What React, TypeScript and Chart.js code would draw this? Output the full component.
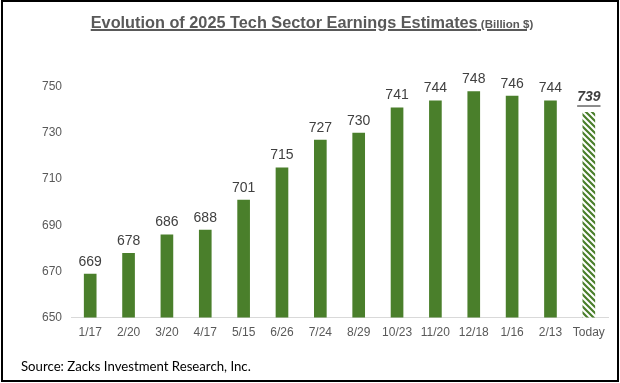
import React, { useEffect, useRef } from "react";
import { Chart, registerables } from "chart.js";

Chart.register(...registerables);

const categories = ["1/17", "2/20", "3/20", "4/17", "5/15", "6/26", "7/24", "8/29", "10/23", "11/20", "12/18", "1/16", "2/13", "Today"];
const estimates = [669, 678, 686, 688, 701, 715, 727, 730, 741, 744, 748, 746, 744, 739];
const yTicks = [650, 670, 690, 710, 730, 750];

const GREEN = "#4a7f2b";

function makeHatch(): CanvasPattern | string {
  const c = document.createElement("canvas");
  const s = 6;
  c.width = s;
  c.height = s;
  const ctx = c.getContext("2d");
  if (!ctx) return GREEN;
  ctx.fillStyle = "#ffffff";
  ctx.fillRect(0, 0, s, s);
  ctx.strokeStyle = GREEN;
  ctx.lineWidth = 2.2;
  ctx.beginPath();
  for (let k = -1; k <= 1; k++) {
    ctx.moveTo(k * s - 1, -1);
    ctx.lineTo(k * s + s + 1, s + 1);
  }
  ctx.stroke();
  return ctx.createPattern(c, "repeat") || GREEN;
}

const labelPlugin = {
  id: "valueLabels",
  afterDatasetsDraw(chart: any) {
    const ctx = chart.ctx;
    const meta = chart.getDatasetMeta(0);
    const data = chart.data.datasets[0].data as number[];
    ctx.save();
    ctx.textAlign = "center";
    ctx.textBaseline = "bottom";
    meta.data.forEach((bar: any, i: number) => {
      const last = i === data.length - 1;
      const txt = String(data[i]);
      ctx.fillStyle = "#404040";
      ctx.font = last ? "italic bold 14px Arial, 'Liberation Sans'" : "14px Arial, 'Liberation Sans'";
      const y = bar.y - (last ? 8 : 5);
      ctx.fillText(txt, bar.x, y);
      if (last) {
        const w = ctx.measureText(txt).width;
        ctx.strokeStyle = "#404040";
        ctx.lineWidth = 1.2;
        ctx.beginPath();
        ctx.moveTo(bar.x - w / 2, y + 2);
        ctx.lineTo(bar.x + w / 2, y + 2);
        ctx.stroke();
      }
    });
    ctx.restore();
  },
};

export default function App() {
  const ref = useRef<HTMLCanvasElement | null>(null);
  useEffect(() => {
    document.body.style.margin = "0";
    if (!ref.current) return;
    const hatch = makeHatch();
    const colors = estimates.map((_, i) => (i === estimates.length - 1 ? hatch : GREEN));
    const chart = new Chart(ref.current, {
      type: "bar",
      data: {
        labels: categories,
        datasets: [
          {
            data: estimates,
            backgroundColor: colors as any,
            borderWidth: 0,
            categoryPercentage: 1,
            barPercentage: 0.33,
          },
        ],
      },
      options: {
        animation: false,
        responsive: false,
        maintainAspectRatio: false,
        layout: { padding: { left: 33, right: 12, top: 63.5, bottom: 35 } },
        plugins: {
          legend: { display: false },
          tooltip: { enabled: false },
          title: { display: false },
        },
        scales: {
          x: {
            grid: { display: false, drawTicks: false },
            border: { display: true, color: "#d9d9d9", width: 1 },
            ticks: { color: "#595959", font: { family: "Arial, 'Liberation Sans'", size: 12 }, padding: 8, maxRotation: 0, autoSkip: false },
          },
          y: {
            min: 650,
            max: 760,
            grid: { display: false, drawTicks: false },
            border: { display: false },
            afterBuildTicks: (axis: any) => {
              axis.ticks = yTicks.map((v) => ({ value: v }));
            },
            ticks: { color: "#595959", font: { family: "Arial, 'Liberation Sans'", size: 12 }, padding: 9 },
          },
        },
      },
      plugins: [labelPlugin],
    });
    return () => chart.destroy();
  }, []);

  return (
    <div style={{ position: "fixed", left: 0, top: 0, width: 620, height: 383, background: "#fff", overflow: "hidden" }}>
      <canvas ref={ref} width={620} height={383} style={{ position: "absolute", left: 0, top: 0, width: 620, height: 383 }} />
      <div
        style={{
          position: "absolute",
          left: 2,
          top: 13,
          width: 620,
          textAlign: "center",
          fontFamily: "Arial, 'Liberation Sans', sans-serif",
          fontWeight: "bold",
          color: "#595959",
          textDecoration: "underline",
          textDecorationThickness: 1.5,
          whiteSpace: "nowrap",
        }}
      >
        <span style={{ fontSize: 16.3 }}>Evolution of 2025 Tech Sector Earnings Estimates</span>
        <span style={{ fontSize: 11.5 }}> (Billion $)</span>
      </div>
      <div
        style={{
          position: "absolute",
          left: 21,
          top: 358,
          fontFamily: "Lato, 'Open Sans', sans-serif",
          fontSize: 13.2,
          color: "#000",
          whiteSpace: "nowrap",
        }}
      >
        Source: Zacks Investment Research, Inc.
      </div>
      <div style={{ position: "absolute", left: 1, top: 0, width: 614, height: 378, border: "2px solid #000", pointerEvents: "none" }} />
    </div>
  );
}
